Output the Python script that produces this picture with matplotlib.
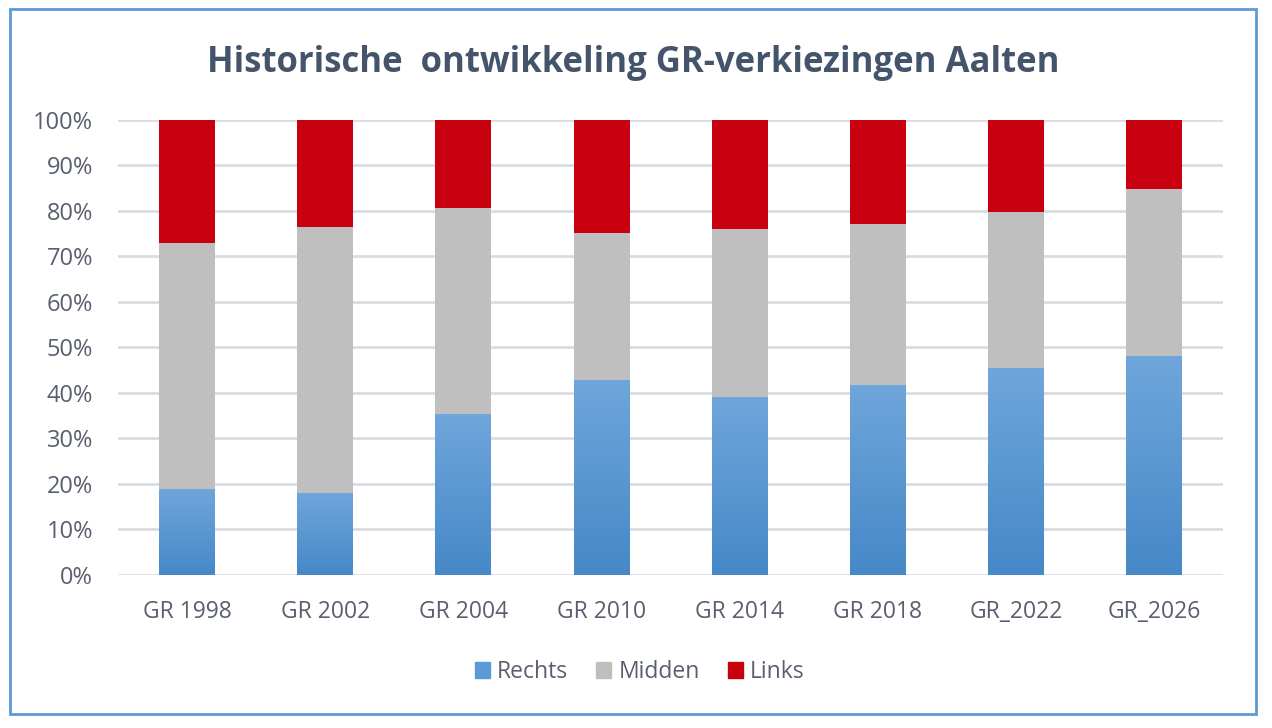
import numpy as np
import matplotlib
matplotlib.use("Agg")
import matplotlib.pyplot as plt
from matplotlib.colors import LinearSegmentedColormap
from matplotlib.patches import Rectangle
from matplotlib.ticker import PercentFormatter

# data (percentages)
categories = ["GR 1998", "GR 2002", "GR 2004", "GR 2010", "GR 2014", "GR 2018", "GR_2022", "GR_2026"]
rechts = [18.9, 18.0, 35.4, 42.9, 39.1, 41.8, 45.5, 48.1]
midden = [54.1, 58.5, 45.3, 32.3, 36.9, 35.3, 34.3, 36.7]
links = [27.0, 23.5, 19.3, 24.8, 24.0, 22.9, 20.2, 15.2]

plt.rcParams['font.family'] = ['Open Sans', 'DejaVu Sans']
text_col = "#595F6E"

fig = plt.figure(figsize=(12.72, 7.28), dpi=100)
ax = fig.add_axes([0.0928, 0.2102, 0.8690, 0.6250])

x = np.arange(len(categories))
w = 0.405
bot2 = np.array(rechts) + np.array(midden)

bars_r = ax.bar(x, rechts, w, color="#5B9BD5", zorder=2)
ax.bar(x, midden, w, bottom=rechts, color="#BFBFBF", zorder=2)
ax.bar(x, links, w, bottom=bot2, color="#C8000F", zorder=2)

# gradient fill on the Rechts bars
cmap = LinearSegmentedColormap.from_list("blu", ["#4688C8", "#6FA6DB"])
grad = np.linspace(0, 1, 256).reshape(-1, 1)
for b in bars_r:
    x0, y0 = b.get_x(), b.get_y()
    bw, bh = b.get_width(), b.get_height()
    im = ax.imshow(grad, cmap=cmap, origin="lower", aspect="auto",
                   extent=[x0, x0 + bw, y0, y0 + bh], zorder=2.5)
    im.set_clip_path(b)

ax.set_xlim(-0.5, len(categories) - 0.5)
ax.set_ylim(0, 100)
ax.set_yticks(np.arange(0, 101, 10))
ax.yaxis.set_major_formatter(PercentFormatter(decimals=0))
ax.set_xticks(x)
ax.set_xticklabels(categories)
ax.tick_params(axis="x", length=0, labelsize=16.5, labelcolor=text_col, pad=18)
ax.tick_params(axis="y", length=0, labelsize=17, labelcolor=text_col, pad=18)
ax.grid(axis="y", color="#D9DDE3", linewidth=2, zorder=0)
for s in ax.spines.values():
    s.set_visible(False)

fig.text(0.4975, 0.914, "Historische  ontwikkeling GR-verkiezingen Aalten",
         ha="center", va="center", fontsize=25, fontweight="bold", color="#44546A")

handles = [Rectangle((0, 0), 1, 1, color=c) for c in ["#5B9BD5", "#BFBFBF", "#C8000F"]]
fig.legend(handles, ["Rechts", "Midden", "Links"], loc="center", bbox_to_anchor=(0.503, 0.077),
           ncol=3, frameon=False, fontsize=16.5, labelcolor=text_col,
           handlelength=0.65, handleheight=0.65, handletextpad=0.3, columnspacing=1.25)

# chart border
fig.patches.append(Rectangle((10 / 1272, 1 - 714 / 728), 1246 / 1272, 705 / 728,
                             transform=fig.transFigure, fill=False,
                             edgecolor="#5B9BD5", linewidth=2))

fig.savefig("out.png", dpi=100)
